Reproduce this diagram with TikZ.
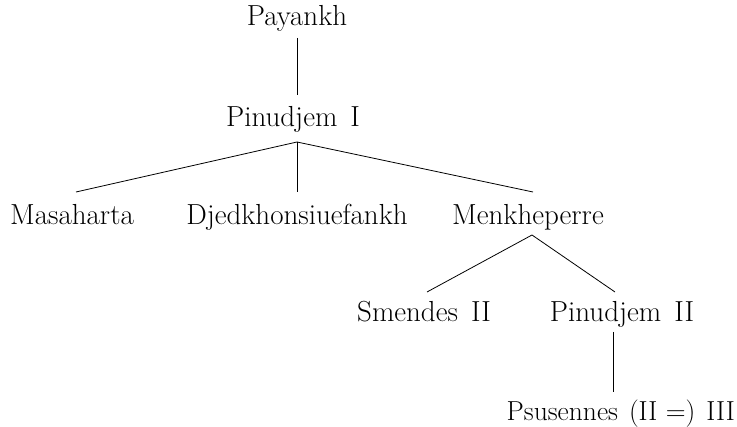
\documentclass[tikz,border=0pt]{standalone}
\begin{document}
\begin{tikzpicture}[x=1pt,y=-1pt,
  kin/.style={anchor=base,inner sep=0pt,font=\fontsize{29}{34}\selectfont},
  link/.style={line width=0.8pt,black}]
\useasboundingbox (0,0) rectangle (737,427);
\node[kin] (pay)  at (297,26)  {Payankh};
\node[kin] (pin1) at (293,127) {Pinudjem\hspace{0.45em}I};
\node[kin] (masa) at (72,225)  {Masaharta};
\node[kin] (djed) at (297,225) {Djedkhonsiuefankh};
\node[kin] (menk) at (528,225) {Menkheperre};
\node[kin] (smen) at (424,322) {Smendes\hspace{0.45em}II};
\node[kin] (pin2) at (622,322) {Pinudjem\hspace{0.45em}II};
\node[kin,anchor=base east,font=\fontsize{27.5}{32}\selectfont] (psus) at (735,421) {Psusennes\hspace{0.4em}(II\hspace{0.3em}=)\hspace{0.4em}III};
\draw[link] ([yshift=-12pt]pay.base) -- ([xshift=4pt,yshift=32pt]pin1.base);
\draw[link] ([xshift=4pt,yshift=-15pt]pin1.base) -- ([xshift=4pt,yshift=33pt]masa.base);
\draw[link] ([xshift=4pt,yshift=-15pt]pin1.base) -- ([yshift=33pt]djed.base);
\draw[link] ([xshift=4pt,yshift=-15pt]pin1.base) -- ([xshift=5pt,yshift=33pt]menk.base);
\draw[link] ([xshift=4pt,yshift=-10pt]menk.base) -- ([xshift=3pt,yshift=30pt]smen.base);
\draw[link] ([xshift=4pt,yshift=-10pt]menk.base) -- ([xshift=-7pt,yshift=30pt]pin2.base);
\draw[link] ([xshift=-9pt,yshift=-10pt]pin2.base) -- ([xshift=-9pt,yshift=29pt]pin2.base |- psus.base);
\end{tikzpicture}
\end{document}
